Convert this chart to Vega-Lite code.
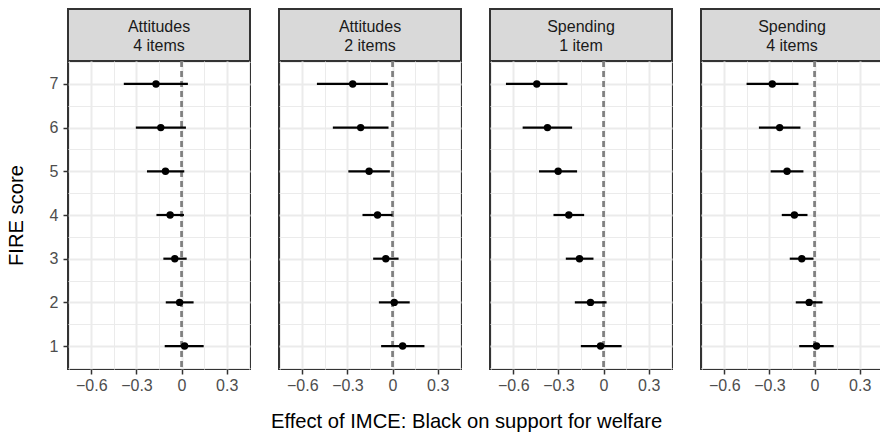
{
  "$schema": "https://vega.github.io/schema/vega-lite/v6.json",
  "padding": {"left": 5, "top": 8, "right": 0, "bottom": 0},
  "autosize": {"type": "pad"},
  "background": "white",
  "config": {"font": "Liberation Sans", "view": {"stroke": null}},
  "title": {"text": "Effect of IMCE: Black on support for welfare", "orient": "bottom", "anchor": "middle", "fontSize": 20.2, "fontWeight": "normal", "color": "#000000", "offset": 18, "dx": 22},
  "datasets": {
    "panels": [
      {"panel": "Attitudes 4 items", "label": "Attitudes\n4 items"},
      {"panel": "Attitudes 2 items", "label": "Attitudes\n2 items"},
      {"panel": "Spending 1 item", "label": "Spending\n1 item"},
      {"panel": "Spending 4 items", "label": "Spending\n4 items"}
    ],
    "est": [
      {"panel": "Attitudes 4 items", "fire": 7, "est": -0.170, "lo": -0.384, "hi": 0.042},
      {"panel": "Attitudes 4 items", "fire": 6, "est": -0.138, "lo": -0.304, "hi": 0.029},
      {"panel": "Attitudes 4 items", "fire": 5, "est": -0.107, "lo": -0.230, "hi": 0.018},
      {"panel": "Attitudes 4 items", "fire": 4, "est": -0.076, "lo": -0.167, "hi": 0.016},
      {"panel": "Attitudes 4 items", "fire": 3, "est": -0.045, "lo": -0.121, "hi": 0.034},
      {"panel": "Attitudes 4 items", "fire": 2, "est": -0.013, "lo": -0.105, "hi": 0.080},
      {"panel": "Attitudes 4 items", "fire": 1, "est": 0.020, "lo": -0.112, "hi": 0.147},
      {"panel": "Attitudes 2 items", "fire": 7, "est": -0.265, "lo": -0.503, "hi": -0.031},
      {"panel": "Attitudes 2 items", "fire": 6, "est": -0.212, "lo": -0.397, "hi": -0.027},
      {"panel": "Attitudes 2 items", "fire": 5, "est": -0.156, "lo": -0.294, "hi": -0.018},
      {"panel": "Attitudes 2 items", "fire": 4, "est": -0.100, "lo": -0.200, "hi": 0.000},
      {"panel": "Attitudes 2 items", "fire": 3, "est": -0.045, "lo": -0.129, "hi": 0.040},
      {"panel": "Attitudes 2 items", "fire": 2, "est": 0.011, "lo": -0.091, "hi": 0.114},
      {"panel": "Attitudes 2 items", "fire": 1, "est": 0.067, "lo": -0.076, "hi": 0.212},
      {"panel": "Spending 1 item", "fire": 7, "est": -0.444, "lo": -0.649, "hi": -0.240},
      {"panel": "Spending 1 item", "fire": 6, "est": -0.373, "lo": -0.538, "hi": -0.209},
      {"panel": "Spending 1 item", "fire": 5, "est": -0.302, "lo": -0.429, "hi": -0.176},
      {"panel": "Spending 1 item", "fire": 4, "est": -0.231, "lo": -0.333, "hi": -0.129},
      {"panel": "Spending 1 item", "fire": 3, "est": -0.160, "lo": -0.251, "hi": -0.067},
      {"panel": "Spending 1 item", "fire": 2, "est": -0.087, "lo": -0.191, "hi": 0.020},
      {"panel": "Spending 1 item", "fire": 1, "est": -0.020, "lo": -0.151, "hi": 0.120},
      {"panel": "Spending 4 items", "fire": 7, "est": -0.281, "lo": -0.452, "hi": -0.107},
      {"panel": "Spending 4 items", "fire": 6, "est": -0.232, "lo": -0.370, "hi": -0.094},
      {"panel": "Spending 4 items", "fire": 5, "est": -0.183, "lo": -0.292, "hi": -0.074},
      {"panel": "Spending 4 items", "fire": 4, "est": -0.134, "lo": -0.218, "hi": -0.047},
      {"panel": "Spending 4 items", "fire": 3, "est": -0.085, "lo": -0.165, "hi": -0.007},
      {"panel": "Spending 4 items", "fire": 2, "est": -0.036, "lo": -0.125, "hi": 0.053},
      {"panel": "Spending 4 items", "fire": 1, "est": 0.013, "lo": -0.102, "hi": 0.127}
    ]
  },
  "columns": 4,
  "spacing": {"row": 0, "column": 29},
  "bounds": "flush",
  "concat": [
    {"width": 182, "height": 52, "data": {"name": "panels"}, "transform": [{"filter": "datum.panel === 'Attitudes 4 items'"}],
     "view": {"fill": "#d9d9d9", "stroke": "#333333", "strokeWidth": 2},
     "mark": {"type": "text", "lineBreak": "\n", "fontSize": 16, "lineHeight": 18.5, "color": "#1a1a1a", "dy": -8},
     "encoding": {"text": {"field": "label"}}},
    {"width": 182, "height": 52, "data": {"name": "panels"}, "transform": [{"filter": "datum.panel === 'Attitudes 2 items'"}],
     "view": {"fill": "#d9d9d9", "stroke": "#333333", "strokeWidth": 2},
     "mark": {"type": "text", "lineBreak": "\n", "fontSize": 16, "lineHeight": 18.5, "color": "#1a1a1a", "dy": -8},
     "encoding": {"text": {"field": "label"}}},
    {"width": 182, "height": 52, "data": {"name": "panels"}, "transform": [{"filter": "datum.panel === 'Spending 1 item'"}],
     "view": {"fill": "#d9d9d9", "stroke": "#333333", "strokeWidth": 2},
     "mark": {"type": "text", "lineBreak": "\n", "fontSize": 16, "lineHeight": 18.5, "color": "#1a1a1a", "dy": -8},
     "encoding": {"text": {"field": "label"}}},
    {"width": 182, "height": 52, "data": {"name": "panels"}, "transform": [{"filter": "datum.panel === 'Spending 4 items'"}],
     "view": {"fill": "#d9d9d9", "stroke": "#333333", "strokeWidth": 2},
     "mark": {"type": "text", "lineBreak": "\n", "fontSize": 16, "lineHeight": 18.5, "color": "#1a1a1a", "dy": -8},
     "encoding": {"text": {"field": "label"}}},
    {"width": 182, "height": 308, "data": {"name": "est"}, "transform": [{"filter": "datum.panel === 'Attitudes 4 items'"}],
     "view": {"stroke": "#333333", "strokeWidth": 2, "fill": "white"},
     "layer": [
       {"mark": {"type": "rule", "color": "#7f7f7f", "strokeDash": [6, 4], "strokeWidth": 1.5},
        "encoding": {"x": {"datum": 0, "type": "quantitative", "scale": {"domain": [-0.755, 0.455], "nice": false, "zero": false}, "axis": null}}},
       {"mark": {"type": "rule", "color": "black", "strokeWidth": 2.2},
        "encoding": {
          "x": {"field": "lo", "type": "quantitative", "scale": {"domain": [-0.755, 0.455], "nice": false, "zero": false},
                "axis": {"orient": "top", "values": [-0.75, -0.45, -0.15, 0.15, 0.45], "grid": true, "gridColor": "#ebebeb", "gridWidth": 1, "labels": false, "ticks": false, "domain": false, "title": null, "minExtent": 0, "maxExtent": 0}},
          "x2": {"field": "hi"},
          "y": {"field": "fire", "type": "quantitative", "scale": {"domain": [0.475, 7.525], "nice": false, "zero": false},
                "axis": {"orient": "right", "values": [0.5, 1.5, 2.5, 3.5, 4.5, 5.5, 6.5, 7.5], "grid": true, "gridColor": "#ebebeb", "gridWidth": 1, "labels": false, "ticks": false, "domain": false, "title": null, "minExtent": 0, "maxExtent": 0}}}},
       {"mark": {"type": "circle", "color": "black", "size": 55, "opacity": 1},
        "encoding": {
          "x": {"field": "est", "type": "quantitative", "scale": {"domain": [-0.755, 0.455], "nice": false, "zero": false},
                "axis": {"orient": "bottom", "values": [-0.6, -0.3, 0, 0.3], "format": ".1~f", "labelExpr": "replace(datum.label, '-', '\u2212')", "grid": true, "gridColor": "#ebebeb", "gridWidth": 2, "domain": false, "tickColor": "#333333", "tickSize": 5, "tickWidth": 1.5, "labelFontSize": 16, "labelColor": "#4d4d4d", "labelPadding": 3, "title": null}},
          "y": {"field": "fire", "type": "quantitative", "scale": {"domain": [0.475, 7.525], "nice": false, "zero": false},
                "axis": {"orient": "left", "values": [1, 2, 3, 4, 5, 6, 7], "format": "d", "grid": true, "gridColor": "#ebebeb", "gridWidth": 2, "domain": false, "tickColor": "#333333", "tickSize": 5, "tickWidth": 1.5, "labelFontSize": 16, "labelColor": "#4d4d4d", "labelPadding": 5, "title": "FIRE score", "titleFontSize": 20.2, "titleFontWeight": "normal", "titleColor": "#000000", "titlePadding": 23}}}}
     ],
     "resolve": {"axis": {"x": "independent", "y": "independent"}}},
    {"width": 182, "height": 308, "data": {"name": "est"}, "transform": [{"filter": "datum.panel === 'Attitudes 2 items'"}],
     "view": {"stroke": "#333333", "strokeWidth": 2, "fill": "white"},
     "layer": [
       {"mark": {"type": "rule", "color": "#7f7f7f", "strokeDash": [6, 4], "strokeWidth": 1.5},
        "encoding": {"x": {"datum": 0, "type": "quantitative", "scale": {"domain": [-0.755, 0.455], "nice": false, "zero": false}, "axis": null}}},
       {"mark": {"type": "rule", "color": "black", "strokeWidth": 2.2},
        "encoding": {
          "x": {"field": "lo", "type": "quantitative", "scale": {"domain": [-0.755, 0.455], "nice": false, "zero": false},
                "axis": {"orient": "top", "values": [-0.75, -0.45, -0.15, 0.15, 0.45], "grid": true, "gridColor": "#ebebeb", "gridWidth": 1, "labels": false, "ticks": false, "domain": false, "title": null, "minExtent": 0, "maxExtent": 0}},
          "x2": {"field": "hi"},
          "y": {"field": "fire", "type": "quantitative", "scale": {"domain": [0.475, 7.525], "nice": false, "zero": false},
                "axis": {"orient": "right", "values": [0.5, 1.5, 2.5, 3.5, 4.5, 5.5, 6.5, 7.5], "grid": true, "gridColor": "#ebebeb", "gridWidth": 1, "labels": false, "ticks": false, "domain": false, "title": null, "minExtent": 0, "maxExtent": 0}}}},
       {"mark": {"type": "circle", "color": "black", "size": 55, "opacity": 1},
        "encoding": {
          "x": {"field": "est", "type": "quantitative", "scale": {"domain": [-0.755, 0.455], "nice": false, "zero": false},
                "axis": {"orient": "bottom", "values": [-0.6, -0.3, 0, 0.3], "format": ".1~f", "labelExpr": "replace(datum.label, '-', '\u2212')", "grid": true, "gridColor": "#ebebeb", "gridWidth": 2, "domain": false, "tickColor": "#333333", "tickSize": 5, "tickWidth": 1.5, "labelFontSize": 16, "labelColor": "#4d4d4d", "labelPadding": 3, "title": null}},
          "y": {"field": "fire", "type": "quantitative", "scale": {"domain": [0.475, 7.525], "nice": false, "zero": false},
                "axis": {"orient": "left", "values": [1, 2, 3, 4, 5, 6, 7], "grid": true, "gridColor": "#ebebeb", "gridWidth": 2, "domain": false, "labels": false, "ticks": false, "title": null, "minExtent": 0, "maxExtent": 0}}}}
     ],
     "resolve": {"axis": {"x": "independent", "y": "independent"}}},
    {"width": 182, "height": 308, "data": {"name": "est"}, "transform": [{"filter": "datum.panel === 'Spending 1 item'"}],
     "view": {"stroke": "#333333", "strokeWidth": 2, "fill": "white"},
     "layer": [
       {"mark": {"type": "rule", "color": "#7f7f7f", "strokeDash": [6, 4], "strokeWidth": 1.5},
        "encoding": {"x": {"datum": 0, "type": "quantitative", "scale": {"domain": [-0.755, 0.455], "nice": false, "zero": false}, "axis": null}}},
       {"mark": {"type": "rule", "color": "black", "strokeWidth": 2.2},
        "encoding": {
          "x": {"field": "lo", "type": "quantitative", "scale": {"domain": [-0.755, 0.455], "nice": false, "zero": false},
                "axis": {"orient": "top", "values": [-0.75, -0.45, -0.15, 0.15, 0.45], "grid": true, "gridColor": "#ebebeb", "gridWidth": 1, "labels": false, "ticks": false, "domain": false, "title": null, "minExtent": 0, "maxExtent": 0}},
          "x2": {"field": "hi"},
          "y": {"field": "fire", "type": "quantitative", "scale": {"domain": [0.475, 7.525], "nice": false, "zero": false},
                "axis": {"orient": "right", "values": [0.5, 1.5, 2.5, 3.5, 4.5, 5.5, 6.5, 7.5], "grid": true, "gridColor": "#ebebeb", "gridWidth": 1, "labels": false, "ticks": false, "domain": false, "title": null, "minExtent": 0, "maxExtent": 0}}}},
       {"mark": {"type": "circle", "color": "black", "size": 55, "opacity": 1},
        "encoding": {
          "x": {"field": "est", "type": "quantitative", "scale": {"domain": [-0.755, 0.455], "nice": false, "zero": false},
                "axis": {"orient": "bottom", "values": [-0.6, -0.3, 0, 0.3], "format": ".1~f", "labelExpr": "replace(datum.label, '-', '\u2212')", "grid": true, "gridColor": "#ebebeb", "gridWidth": 2, "domain": false, "tickColor": "#333333", "tickSize": 5, "tickWidth": 1.5, "labelFontSize": 16, "labelColor": "#4d4d4d", "labelPadding": 3, "title": null}},
          "y": {"field": "fire", "type": "quantitative", "scale": {"domain": [0.475, 7.525], "nice": false, "zero": false},
                "axis": {"orient": "left", "values": [1, 2, 3, 4, 5, 6, 7], "grid": true, "gridColor": "#ebebeb", "gridWidth": 2, "domain": false, "labels": false, "ticks": false, "title": null, "minExtent": 0, "maxExtent": 0}}}}
     ],
     "resolve": {"axis": {"x": "independent", "y": "independent"}}},
    {"width": 182, "height": 308, "data": {"name": "est"}, "transform": [{"filter": "datum.panel === 'Spending 4 items'"}],
     "view": {"stroke": "#333333", "strokeWidth": 2, "fill": "white"},
     "layer": [
       {"mark": {"type": "rule", "color": "#7f7f7f", "strokeDash": [6, 4], "strokeWidth": 1.5},
        "encoding": {"x": {"datum": 0, "type": "quantitative", "scale": {"domain": [-0.755, 0.455], "nice": false, "zero": false}, "axis": null}}},
       {"mark": {"type": "rule", "color": "black", "strokeWidth": 2.2},
        "encoding": {
          "x": {"field": "lo", "type": "quantitative", "scale": {"domain": [-0.755, 0.455], "nice": false, "zero": false},
                "axis": {"orient": "top", "values": [-0.75, -0.45, -0.15, 0.15, 0.45], "grid": true, "gridColor": "#ebebeb", "gridWidth": 1, "labels": false, "ticks": false, "domain": false, "title": null, "minExtent": 0, "maxExtent": 0}},
          "x2": {"field": "hi"},
          "y": {"field": "fire", "type": "quantitative", "scale": {"domain": [0.475, 7.525], "nice": false, "zero": false},
                "axis": {"orient": "right", "values": [0.5, 1.5, 2.5, 3.5, 4.5, 5.5, 6.5, 7.5], "grid": true, "gridColor": "#ebebeb", "gridWidth": 1, "labels": false, "ticks": false, "domain": false, "title": null, "minExtent": 0, "maxExtent": 0}}}},
       {"mark": {"type": "circle", "color": "black", "size": 55, "opacity": 1},
        "encoding": {
          "x": {"field": "est", "type": "quantitative", "scale": {"domain": [-0.755, 0.455], "nice": false, "zero": false},
                "axis": {"orient": "bottom", "values": [-0.6, -0.3, 0, 0.3], "format": ".1~f", "labelExpr": "replace(datum.label, '-', '\u2212')", "grid": true, "gridColor": "#ebebeb", "gridWidth": 2, "domain": false, "tickColor": "#333333", "tickSize": 5, "tickWidth": 1.5, "labelFontSize": 16, "labelColor": "#4d4d4d", "labelPadding": 3, "title": null}},
          "y": {"field": "fire", "type": "quantitative", "scale": {"domain": [0.475, 7.525], "nice": false, "zero": false},
                "axis": {"orient": "left", "values": [1, 2, 3, 4, 5, 6, 7], "grid": true, "gridColor": "#ebebeb", "gridWidth": 2, "domain": false, "labels": false, "ticks": false, "title": null, "minExtent": 0, "maxExtent": 0}}}}
     ],
     "resolve": {"axis": {"x": "independent", "y": "independent"}}}
  ]
}
